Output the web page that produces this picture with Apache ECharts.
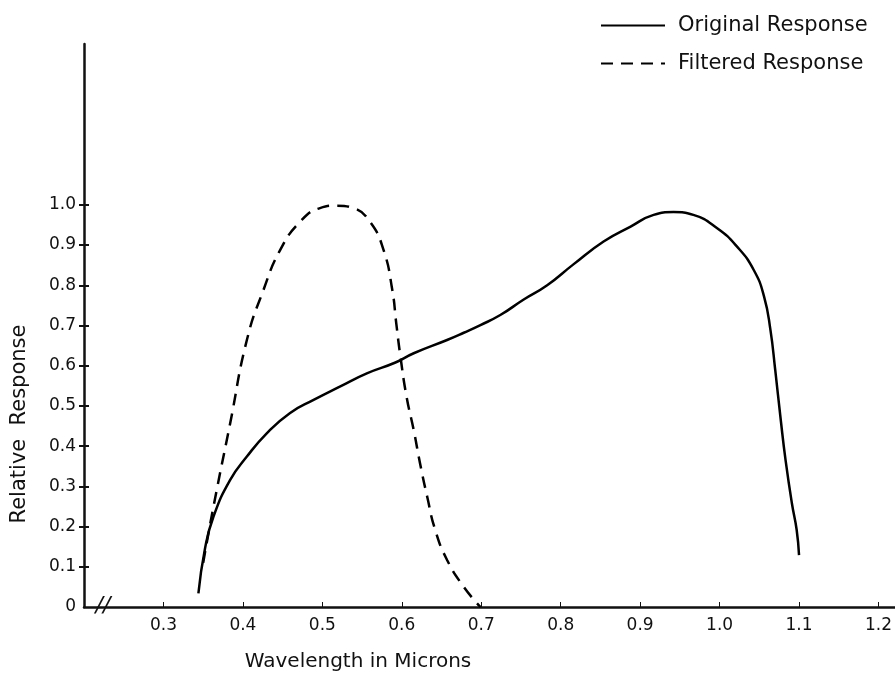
<!DOCTYPE html>
<html>
<head>
    <meta charset="utf-8">
    <title>Relative Response</title>
    <script src="https://cdn.jsdelivr.net/npm/echarts@6/dist/echarts.min.js"></script>
    <style>
        html, body {margin: 0; padding: 0; background: #fff;}
        #chart {width: 895px; height: 678px;}
    </style>
</head>
<body>
<div id="chart"></div>
<script>
    // curves (wavelength in microns, relative response)
    var originalX = [0.344, 0.352, 0.363, 0.384, 0.405, 0.430, 0.459, 0.489, 0.522, 0.556, 0.592, 0.615, 0.657,
        0.678, 0.699, 0.724, 0.753, 0.783, 0.816, 0.854, 0.888, 0.917, 0.942, 0.967, 0.997, 1.022, 1.043, 1.056,
        1.064, 1.070, 1.077, 1.083, 1.091, 1.097, 1.100];
    var originalY = [0.034, 0.142, 0.225, 0.316, 0.374, 0.432, 0.482, 0.515, 0.548, 0.581, 0.608, 0.631, 0.664,
        0.682, 0.701, 0.726, 0.764, 0.800, 0.852, 0.909, 0.946, 0.975, 0.982, 0.975, 0.942, 0.896, 0.838, 0.772,
        0.689, 0.590, 0.465, 0.366, 0.258, 0.192, 0.129];

    var filteredX = [0.350, 0.363, 0.384, 0.405, 0.426, 0.447, 0.472, 0.497, 0.518, 0.539, 0.560, 0.577, 0.588,
        0.593, 0.598, 0.606, 0.615, 0.623, 0.632, 0.642, 0.657, 0.678, 0.699];
    var filteredY = [0.110, 0.250, 0.457, 0.664, 0.789, 0.888, 0.958, 0.992, 0.998, 0.992, 0.958, 0.888, 0.789,
        0.706, 0.627, 0.523, 0.440, 0.357, 0.274, 0.192, 0.117, 0.050, 0.000];

    var xTickValues = [0.3, 0.4, 0.5, 0.6, 0.7, 0.8, 0.9, 1.0, 1.1, 1.2];
    var yLabelValues = [0, 0.1, 0.2, 0.3, 0.4, 0.5, 0.6, 0.7, 0.8, 0.9, 1.0];
    var yTickValues = [0.1, 0.2, 0.3, 0.4, 0.5, 0.6, 0.7, 0.8, 0.9, 1.0];

    var seriesNames = ['Original Response', 'Filtered Response'];

    function zip(xs, ys) {
        var out = [];
        for (var i = 0; i < xs.length; i++) {
            out.push([xs[i], ys[i]]);
        }
        return out;
    }

    var font = 'DejaVu Sans';
    var ink = '#111';

    var myChart = echarts.init(document.getElementById('chart'));
    myChart.setOption({
        backgroundColor: '#fff',
        animation: false,
        textStyle: {fontFamily: font, color: ink},
        grid: {left: 84, right: 0, top: 44, bottom: 71, containLabel: false},
        legend: {
            orient: 'vertical',
            left: 595,
            top: 10,
            itemWidth: 64,
            itemHeight: 14,
            itemGap: 17,
            data: seriesNames,
            // hide the symbol dot, keep only the line
            itemStyle: {opacity: 0},
            textStyle: {fontFamily: font, fontSize: 21, color: ink, padding: [0, 0, 0, 8]}
        },
        xAxis: {
            type: 'value',
            min: 0.2,
            max: 1.22,
            splitLine: {show: false},
            axisLine: {lineStyle: {color: ink, width: 2.5}},
            axisTick: {
                show: true,
                inside: true,
                length: 5,
                customValues: xTickValues,
                lineStyle: {color: ink, width: 1}
            },
            axisLabel: {
                customValues: xTickValues,
                margin: 10,
                fontSize: 17,
                color: ink,
                fontFamily: font,
                formatter: function (v) {
                    return v.toFixed(1);
                }
            }
        },
        yAxis: [
            {
                type: 'value',
                min: 0,
                max: 1.4,
                splitLine: {show: false},
                axisLine: {show: true, lineStyle: {color: ink, width: 2.5}},
                axisTick: {
                    show: true,
                    length: 5,
                    customValues: yTickValues,
                    lineStyle: {color: ink, width: 2}
                },
                axisLabel: {
                    customValues: yLabelValues,
                    margin: 8,
                    fontSize: 17,
                    color: ink,
                    fontFamily: font,
                    formatter: function (v) {
                        return v === 0 ? '0' : v.toFixed(1);
                    }
                }
            },
            {
                // second copy so the ticks cross the axis line
                type: 'value',
                min: 0,
                max: 1.4,
                position: 'left',
                splitLine: {show: false},
                axisLine: {show: false},
                axisTick: {
                    show: true,
                    inside: true,
                    length: 5,
                    customValues: yTickValues,
                    lineStyle: {color: ink, width: 2}
                },
                axisLabel: {show: false}
            }
        ],
        graphic: [
            {
                type: 'text',
                x: 20,
                y: 424,
                rotation: Math.PI / 2,
                style: {
                    text: 'Relative  Response',
                    font: '21px "DejaVu Sans"',
                    fill: ink,
                    align: 'center',
                    verticalAlign: 'middle'
                }
            },
            {
                type: 'text',
                x: 358,
                y: 662,
                style: {
                    text: 'Wavelength in Microns',
                    font: '20px "DejaVu Sans"',
                    fill: ink,
                    align: 'center',
                    verticalAlign: 'middle'
                }
            },
            {
                type: 'text',
                x: 103,
                y: 606,
                style: {
                    text: '//',
                    font: 'italic 22px "DejaVu Sans"',
                    fill: ink,
                    align: 'center',
                    verticalAlign: 'middle'
                }
            }
        ],
        series: [
            {
                name: seriesNames[0],
                type: 'line',
                symbol: 'none',
                smooth: 0.5,
                color: '#000',
                lineStyle: {color: '#000', width: 2.5},
                data: zip(originalX, originalY)
            },
            {
                name: seriesNames[1],
                type: 'line',
                symbol: 'none',
                smooth: 0.5,
                color: '#000',
                lineStyle: {color: '#000', width: 2.5, type: [12, 8]},
                data: zip(filteredX, filteredY)
            }
        ]
    });
</script>
</body>
</html>
